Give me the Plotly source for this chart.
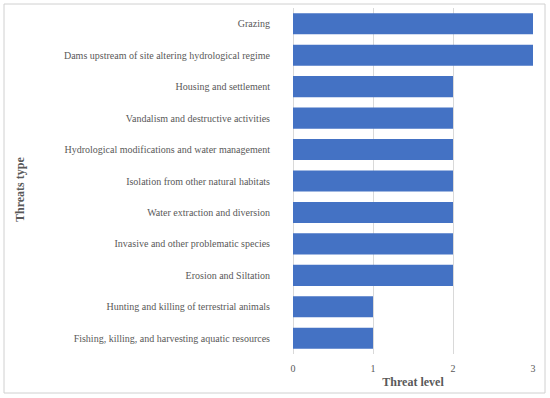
import plotly.graph_objects as go

categories = [
    "Grazing",
    "Dams upstream of site altering hydrological regime",
    "Housing and settlement",
    "Vandalism and destructive activities",
    "Hydrological modifications and water management",
    "Isolation from other natural habitats",
    "Water extraction and diversion",
    "Invasive and other problematic species",
    "Erosion and Siltation",
    "Hunting and killing of terrestrial animals",
    "Fishing, killing, and harvesting aquatic resources",
]
threat_levels = [3, 3, 2, 2, 2, 2, 2, 2, 2, 1, 1]
x_ticks = [0, 1, 2, 3]

FONT = "Liberation Serif"
GRAY = "#595959"

fig = go.Figure(go.Bar(
    y=categories, x=threat_levels, orientation="h",
    marker=dict(color="#4472C4", line=dict(width=0)),
))

L, R, T, B = 293, 17, 8, 44
W, H = 550, 398
pw, ph = W - L - R, H - T - B

fig.update_layout(
    width=W, height=H,
    margin=dict(l=L, r=R, t=T, b=B, autoexpand=False),
    paper_bgcolor="white", plot_bgcolor="white",
    bargap=0.33,
    showlegend=False,
    font=dict(family=FONT, size=10, color=GRAY),
    xaxis=dict(
        range=[0, 3], tickvals=x_ticks, showgrid=True, gridcolor="#d9d9d9",
        zeroline=True, zerolinecolor="#d9d9d9", zerolinewidth=1,
        showline=False, ticks="", ticklabelstandoff=7,
        tickfont=dict(family=FONT, size=10, color=GRAY),
        title=dict(text="<b>Threat level</b>", font=dict(family=FONT, size=12, color=GRAY), standoff=4),
    ),
    yaxis=dict(
        autorange="reversed", showgrid=False, showline=False, ticks="",
        ticklabelstandoff=22,
        tickfont=dict(family=FONT, size=10, color=GRAY),
    ),
    annotations=[dict(
        text="<b>Threats type</b>", textangle=-90, showarrow=False,
        xref="paper", yref="paper",
        x=(20 - L) / pw, y=((H - B) - 190) / ph,
        xanchor="center", yanchor="middle",
        font=dict(family=FONT, size=12, color=GRAY),
    )],
    shapes=[dict(
        type="rect", xref="paper", yref="paper", layer="above",
        x0=(4 - L) / pw, x1=(545 - L) / pw,
        y0=-(393 - (H - B)) / ph, y1=1 + (T - 4) / ph,
        line=dict(color="#d0d0d0", width=1), fillcolor="rgba(0,0,0,0)",
    )],
)

fig.write_html(
    "out.html",
    config={"displayModeBar": False},
    post_script="document.body.style.margin='0';document.body.style.padding='0';",
)
